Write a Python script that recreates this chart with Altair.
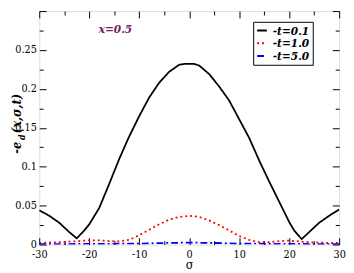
import altair as alt
import pandas as pd

# ---- data ----
series_labels = ["-t=0.1", "-t=1.0", "-t=5.0"]
series_colors = ["#000000", "#ff0000", "#0000ff"]
series_dashes = [[1, 0], [2, 3], [7, 3, 2, 3]]

sigma_t01 = [-30, -28, -26, -24, -22.5, -21, -20, -18, -16, -14, -12, -10, -8, -6, -4, -2, -1, 0,
             1, 2, 4, 6, 8, 10, 12, 14, 16, 18, 20, 21, 22.5, 24, 26, 28, 30]
vals_t01 = [0.044, 0.037, 0.028, 0.016, 0.008, 0.018, 0.026, 0.047, 0.078, 0.110, 0.139, 0.165,
            0.189, 0.208, 0.222, 0.231, 0.232, 0.232, 0.232, 0.230, 0.219, 0.203, 0.185, 0.161,
            0.137, 0.108, 0.081, 0.055, 0.029, 0.018, 0.007, 0.016, 0.028, 0.037, 0.045]

sigma_t10 = [-30, -28, -26, -24, -22, -20, -18, -16, -14, -12, -10, -8, -6, -4, -2, 0,
             2, 4, 6, 8, 10, 12, 14, 16, 18, 20, 22, 24, 26, 28, 30]
vals_t10 = [0.002, 0.0025, 0.003, 0.0037, 0.0045, 0.0055, 0.0055, 0.0045, 0.004, 0.006, 0.012,
            0.019, 0.026, 0.032, 0.0355, 0.0368, 0.0355, 0.031, 0.025, 0.018, 0.011, 0.006,
            0.003, 0.003, 0.0045, 0.005, 0.004, 0.003, 0.0025, 0.002, 0.002]

sigma_t50 = [-30, -25, -20, -15, -10, -5, 0, 5, 10, 15, 20, 25, 30]
vals_t50 = [0.0005, 0.0006, 0.0008, 0.001, 0.0012, 0.002, 0.0025, 0.002, 0.0012, 0.001, 0.0008,
            0.0006, 0.0005]

x_major = [-30, -20, -10, 0, 10, 20, 30]
x_minor = [-25, -15, -5, 5, 15, 25]
y_major = [0, 0.05, 0.1, 0.15, 0.2, 0.25, 0.3]
y_minor = [0.025, 0.075, 0.125, 0.175, 0.225, 0.275]

rows = []
for lab, xs, ys in [(series_labels[0], sigma_t01, vals_t01),
                    (series_labels[1], sigma_t10, vals_t10),
                    (series_labels[2], sigma_t50, vals_t50)]:
    for i, (a, b) in enumerate(zip(xs, ys)):
        rows.append({"series": lab, "sigma": a, "value": b, "order": i})
df = pd.DataFrame(rows)

FONT = "DejaVu Serif Condensed, DejaVu Serif"
W, H = 307, 239

xscale = alt.Scale(domain=[-30, 30], nice=False, zero=False)
yscale = alt.Scale(domain=[0, 0.3], nice=False, zero=False)


def xaxis(orient, values, size, labels=False, title=None):
    kw = dict(orient=orient, values=values, tickSize=size, offset=-size, domain=False,
              grid=False, tickColor="black", tickWidth=1, labels=labels, title=title)
    if labels:
        kw.update(labelFont=FONT, labelFontSize=11, labelColor="black", labelPadding=4,
                  labelFlush=False, labelOverlap=False, labelExpr="'' + datum.value")
    if title:
        kw.update(titleFont=FONT, titleFontSize=13, titleFontWeight="normal",
                  titleColor="black", titlePadding=0)
    return alt.Axis(**kw)


def yaxis(orient, values, size, labels=False):
    kw = dict(orient=orient, values=values, tickSize=size, offset=-size, domain=False,
              grid=False, tickColor="black", tickWidth=1, labels=labels, title=None)
    if labels:
        kw.update(labelFont=FONT, labelFontSize=11, labelColor="black", labelPadding=3,
                  labelFlush=False, labelOverlap=False, format="~g",
                  labelExpr="datum.value >= 0.29 ? '' : datum.label")
    return alt.Axis(**kw)


leg = alt.Legend(title=None, orient="none", legendX=219, legendY=11, symbolType="stroke",
                 symbolStrokeWidth=2, symbolSize=100, labelFont=FONT, labelFontSize=12,
                 labelFontStyle="italic", labelFontWeight="bold", labelColor="black",
                 strokeColor="black", fillColor="white", padding=3, rowPadding=1,
                 labelOffset=5)

lines = alt.Chart(df).mark_line(strokeWidth=1.8, clip=True).encode(
    x=alt.X("sigma:Q", scale=xscale, axis=xaxis("bottom", x_major, 7, True, "σ")),
    y=alt.Y("value:Q", scale=yscale, axis=yaxis("left", y_major, 7, True)),
    color=alt.Color("series:N", scale=alt.Scale(domain=series_labels, range=series_colors),
                    legend=leg),
    strokeDash=alt.StrokeDash("series:N", scale=alt.Scale(domain=series_labels,
                                                           range=series_dashes),
                              legend=leg),
    order="order:Q",
    detail="series:N",
)

def ghost(xa, ya):
    return alt.Chart(df).mark_point(opacity=0).encode(
        x=alt.X("sigma:Q", scale=xscale, axis=xa),
        y=alt.Y("value:Q", scale=yscale, axis=ya),
    )

g1 = ghost(xaxis("top", x_major, 7), yaxis("right", y_major, 7))
g2 = ghost(xaxis("bottom", x_minor, 4), yaxis("left", y_minor, 4))
g3 = ghost(xaxis("top", x_minor, 4), yaxis("right", y_minor, 4))

ann = alt.Chart(pd.DataFrame({"t": ["x=0.5"]})).mark_text(
    font=FONT, fontSize=12, fontStyle="italic", fontWeight="bold", color="#6e1f62",
    align="center", baseline="middle"
).encode(text="t:N", x=alt.value(78), y=alt.value(18))

ytitle_a = alt.Chart(pd.DataFrame({"t": ["-e"]})).mark_text(
    font=FONT, fontSize=13, fontStyle="italic", fontWeight="bold", color="black",
    align="left", baseline="middle", angle=270
).encode(text="t:N", x=alt.value(-23), y=alt.value(146))
ytitle_b = alt.Chart(pd.DataFrame({"t": ["d"]})).mark_text(
    font=FONT, fontSize=9, fontStyle="italic", fontWeight="bold", color="black",
    align="left", baseline="middle", angle=270
).encode(text="t:N", x=alt.value(-18), y=alt.value(132))
ytitle_c = alt.Chart(pd.DataFrame({"t": ["(x,σ,t)"]})).mark_text(
    font=FONT, fontSize=13, fontStyle="italic", fontWeight="bold", color="black",
    align="left", baseline="middle", angle=270
).encode(text="t:N", x=alt.value(-23), y=alt.value(125))

chart = alt.layer(lines, g1, g2, g3, ann, ytitle_a, ytitle_b, ytitle_c).resolve_axis(
    x="independent", y="independent"
).properties(
    width=W, height=H,
    autosize=alt.AutoSizeParams(type="none"),
    padding={"left": 32, "top": 0, "right": 7, "bottom": 26},
).configure_view(stroke="black", strokeWidth=1).configure(background="white")

chart.save("out.html", embed_options={"renderer": "svg", "actions": False})
